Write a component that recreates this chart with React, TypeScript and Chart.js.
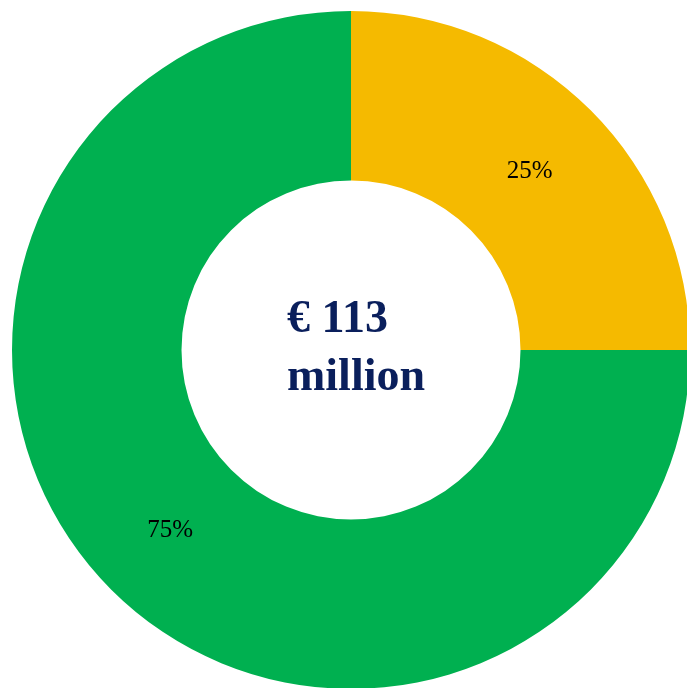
import React, { useEffect, useRef } from "react";
import { Chart, registerables } from "chart.js";

Chart.register(...registerables);

const categories: string[] = ["Share A", "Share B"];
const values: number[] = [25, 75];
const percentLabels: string[] = ["25%", "75%"];
const sliceColors: string[] = ["#F5BA00", "#00B050"];
const centerLines: string[] = ["€ 113", "million"];

const FAMILY = "'Liberation Serif', 'Times New Roman', Times, serif";

const labelPlugin = {
  id: "labelPlugin",
  afterDatasetsDraw(chart: any) {
    const ctx = chart.ctx;
    const meta = chart.getDatasetMeta(0);
    ctx.save();
    ctx.fillStyle = "#000000";
    ctx.font = "25px " + FAMILY;
    ctx.textAlign = "center";
    ctx.textBaseline = "middle";
    meta.data.forEach((arc: any, i: number) => {
      const p = arc.tooltipPosition();
      ctx.fillText(percentLabels[i], p.x - 1, p.y + 1);
    });
    const first = meta.data[0];
    const cx = first.x;
    const cy = first.y;
    ctx.fillStyle = "#0A1F5C";
    ctx.font = "bold 46px " + FAMILY;
    ctx.textAlign = "left";
    ctx.textBaseline = "alphabetic";
    ctx.fillText(centerLines[0], cx - 64, cy - 18);
    ctx.fillText(centerLines[1], cx - 64, cy + 40);
    ctx.restore();
  },
};

export default function App() {
  const ref = useRef<HTMLCanvasElement | null>(null);
  useEffect(() => {
    if (!ref.current) return;
    const chart = new Chart(ref.current, {
      type: "doughnut",
      data: {
        labels: categories,
        datasets: [
          {
            data: values,
            backgroundColor: sliceColors,
            borderWidth: 0,
          },
        ],
      },
      options: {
        responsive: false,
        animation: false,
        cutout: "50%",
        layout: { padding: 0 },
        plugins: {
          legend: { display: false },
          tooltip: { enabled: false },
        },
      },
      plugins: [labelPlugin],
    });
    let alive = true;
    const fonts: any = (document as any).fonts;
    if (fonts && fonts.load) {
      Promise.all([
        fonts.load("25px 'Liberation Serif'"),
        fonts.load("bold 46px 'Liberation Serif'"),
      ])
        .then(() => {
          if (alive) chart.draw();
        })
        .catch(() => {});
    }
    return () => {
      alive = false;
      chart.destroy();
    };
  }, []);
  return (
    <div
      style={{
        position: "fixed",
        left: 0,
        top: 0,
        width: 687,
        height: 688,
        overflow: "hidden",
        background: "#ffffff",
      }}
    >
      <canvas
        ref={ref}
        width={678}
        height={678}
        style={{ position: "absolute", left: 12, top: 11, width: 678, height: 678 }}
      />
    </div>
  );
}
